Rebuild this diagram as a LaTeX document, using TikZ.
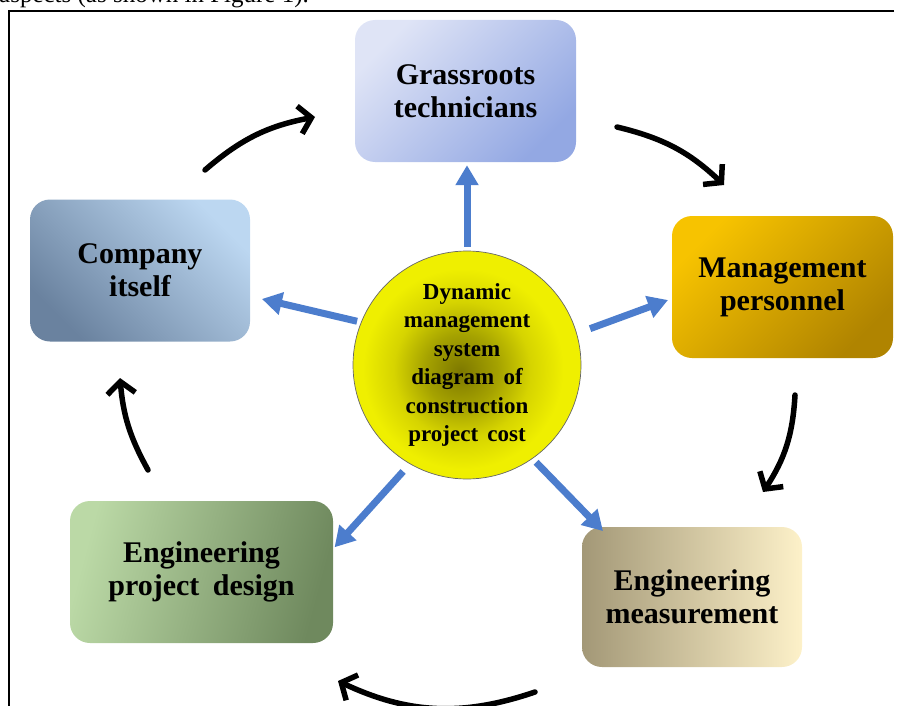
\documentclass[tikz,border=0pt]{standalone}
\usepackage{fontspec}
\setmainfont{Liberation Serif}
\usetikzlibrary{arrows.meta,shadings}
\definecolor{gtl}{HTML}{DFE4F6}
\definecolor{gbr}{HTML}{93A8E3}
\definecolor{ctr}{HTML}{BCD7F1}
\definecolor{cbl}{HTML}{6A829F}
\definecolor{mtl}{HTML}{F7C300}
\definecolor{mbr}{HTML}{B08400}
\definecolor{pl}{HTML}{BBD9A6}
\definecolor{pr}{HTML}{6F895E}
\definecolor{ml}{HTML}{A39877}
\definecolor{mr}{HTML}{FDF1C9}
\definecolor{ballcore}{HTML}{7D7800}
\definecolor{ballmid}{HTML}{A5A200}
\definecolor{ballmid2}{HTML}{D6D400}
\definecolor{ballyel}{HTML}{EFEF00}
\definecolor{arrblue}{HTML}{4C7DCD}
\pgfdeclareradialshading{yelball}{\pgfpoint{-1.5bp}{-1.5bp}}{color(0bp)=(ballcore); color(8bp)=(ballmid); color(15bp)=(ballmid2); color(22bp)=(ballyel); color(25bp)=(ballyel); color(50bp)=(ballyel)}
\begin{document}
\begin{tikzpicture}[x=1pt,y=-1pt,
  box/.style={rounded corners=20pt, minimum height=142pt, align=center,
    font=\fontsize{30}{33}\selectfont\bfseries, inner sep=0pt},
  bluearrow/.style={draw=arrblue, line width=7pt, -{Triangle[length=20pt,width=22pt]}},
  cyclearrow/.style={draw=black, line width=5.5pt, line cap=round,
    -{Straight Barb[length=12pt,width=28pt]}}]
\clip (0,0) rectangle (899,706);
\node[anchor=base west, font=\fontsize{25}{30}\selectfont, inner sep=0pt] (intro) at (-1,3) {aspects (as shown in Figure 1).};
\draw[line width=2pt] (894,11) -- (9,11) -- (9,710);

\node[box, minimum width=221pt, top color=gtl, bottom color=gbr, shading angle=45] (grass) at (465.5,91) {Grassroots\\technicians};
\node[box, minimum width=221pt, top color=mtl, bottom color=mbr, shading angle=45] (mgmt) at (782.5,287) {Management\\personnel};
\node[box, minimum width=220pt, top color=ctr, bottom color=cbl, shading angle=-45] (comp) at (140,270.5) {Company\\itself};
\node[box, minimum width=263pt, left color=pl, right color=pr, shading angle=75] (design) at (201.5,572) {Engineering\\project\hspace{0.45em}design};
\node[box, minimum width=220pt, minimum height=140pt, left color=ml, right color=mr] (meas) at (692,597) {Engineering\\measurement};

\node[circle, minimum size=228pt, inner sep=0pt, shade, shading=yelball, draw=black!60, line width=0.7pt,
  align=center, font=\fontsize{23}{28.5}\selectfont\bfseries] (core) at (467,365)
  {Dynamic\\management\\system\\diagram\hspace{0.4em}of\\construction\\project\hspace{0.4em}cost};

\draw[bluearrow, shorten <=4pt, shorten >=3pt] (core.north) -- (core.north |- grass.south);
\draw[bluearrow, shorten <=4pt, shorten >=12pt] (core.158) -- (comp);
\draw[bluearrow, shorten <=14pt, shorten >=4pt] (core.16) -- (mgmt.186);
\draw[bluearrow, shorten <=10pt, shorten >=2pt] (core.240) -- (design.10);
\draw[bluearrow, shorten <=5pt, shorten >=-6pt] (core.305) -- (meas.143);

\coordinate (a1s) at (205,170); \coordinate (a1e) at (315,117);
\coordinate (a2s) at (617,127); \coordinate (a2e) at (724,185);
\coordinate (a3s) at (795,395); \coordinate (a3e) at (763,492);
\coordinate (a4s) at (535,692); \coordinate (a4e) at (338,681);
\coordinate (a5s) at (148,470); \coordinate (a5e) at (120,378);
\draw[cyclearrow] (a1s) to[bend left=15] (a1e);
\draw[cyclearrow] (a2s) to[bend left=15] (a2e);
\draw[cyclearrow] (a3s) to[bend left=15] (a3e);
\draw[cyclearrow] (a4s) to[bend left=22] (a4e);
\draw[cyclearrow] (a5s) to[bend left=12] (a5e);
\end{tikzpicture}
\end{document}
